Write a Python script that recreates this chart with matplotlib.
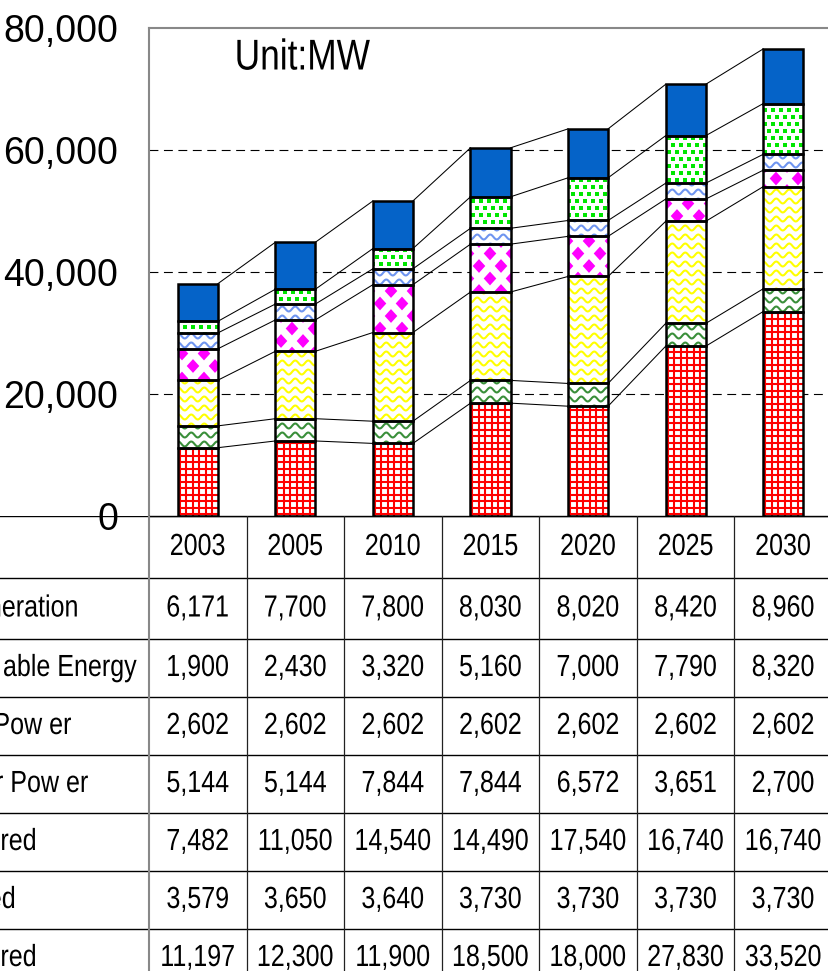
import numpy as np
import matplotlib
matplotlib.use("Agg")
import matplotlib.pyplot as plt
from matplotlib.collections import LineCollection, PolyCollection
from matplotlib.patheffects import AbstractPathEffect
from matplotlib.transforms import Affine2D

# capacity by source, MW
years = ["2003", "2005", "2010", "2015", "2020", "2025", "2030"]
cogeneration = [6171, 7700, 7800, 8030, 8020, 8420, 8960]
renewable = [1900, 2430, 3320, 5160, 7000, 7790, 8320]
pumped = [2602, 2602, 2602, 2602, 2602, 2602, 2602]
nuclear = [5144, 5144, 7844, 7844, 6572, 3651, 2700]
lng = [7482, 11050, 14540, 14490, 17540, 16740, 16740]
oil = [3579, 3650, 3640, 3730, 3730, 3730, 3730]
coal = [11197, 12300, 11900, 18500, 18000, 27830, 33520]

row_labels = ["Cogeneration", "Renew able Energy", "Pump Pow er",
              "Nuclear Pow er", "LNG-fired", "Oil-fired", "Coal-fired"]
table_rows = [cogeneration, renewable, pumped, nuclear, lng, oil, coal]
y_ticks = [0, 20000, 40000, 60000, 80000]

# bottom-to-top stacking order
stack = [coal, oil, lng, nuclear, pumped, renewable, cogeneration]
styles = ["grid", "wave_g", "wave_y", "diamond", "wave_b", "dots", "solid"]

FONT = "Liberation Sans"


class Squeeze(AbstractPathEffect):
    """Draw text narrower (like Arial Narrow) by scaling glyphs in x."""

    def __init__(self, fx=0.82, anchor="center"):
        super().__init__()
        self.fx = fx
        self.anchor = anchor

    def draw_path(self, renderer, gc, tpath, affine, rgbFace=None):
        v = tpath.vertices
        if self.anchor == "center" and len(v):
            cx = (v[:, 0].min() + v[:, 0].max()) / 2
        else:
            cx = 0.0
        squeeze = Affine2D().translate(-cx, 0).scale(self.fx, 1).translate(cx, 0)
        renderer.draw_path(gc, tpath, squeeze + affine, rgbFace)


narrow = [Squeeze()]
narrow_left = [Squeeze(anchor="left")]

W, H = 829, 971
fig = plt.figure(figsize=(W / 100, H / 100), dpi=100)
ax_l, ax_r, ax_t, ax_b = 149, 832, 28, 516
ax = fig.add_axes([ax_l / W, 1 - ax_b / H, (ax_r - ax_l) / W, (ax_b - ax_t) / H])
n = len(years)
x = np.arange(n)
ax.set_xlim(-0.5, n - 0.5)
ax.set_ylim(0, 80000)
ax.set_xticks([])
ax.set_yticks(y_ticks)
ax.set_yticklabels([f"{v:,}" for v in y_ticks], fontfamily=FONT)
ax.tick_params(axis="y", length=0, pad=22, labelsize=27)
for s in ["left", "top", "right"]:
    ax.spines[s].set_color("#888888")
    ax.spines[s].set_linewidth(1.5)
ax.spines["bottom"].set_color("black")
ax.spines["bottom"].set_linewidth(1.0)

for v in y_ticks[1:-1]:
    ax.axhline(v, color="black", lw=0.8, ls=(0, (8, 5)), zorder=0.5)

bw = 0.41
cum = np.cumsum(np.array(stack, dtype=float), axis=0)
bottoms = np.vstack([np.zeros(n), cum[:-1]])

# series lines between neighbouring bars
for k in range(len(stack)):
    for i in range(n - 1):
        ax.plot([i + bw / 2, i + 1 - bw / 2], [cum[k][i], cum[k][i + 1]],
                color="black", lw=0.75, zorder=1)

fig.canvas.draw()
p0 = ax.transData.transform((-0.5, 0))
p1 = ax.transData.transform((0.5, 1))
sx, sy = p1[0] - p0[0], p1[1] - p0[1]  # pixels per data unit


def to_data(px, py):
    return np.asarray(px) / sx - 0.5, np.asarray(py) / sy


def rect_px(rect):
    x0, y0 = rect.get_x(), rect.get_y()
    return ((x0 + 0.5) * sx, (x0 + rect.get_width() + 0.5) * sx,
            y0 * sy, (y0 + rect.get_height()) * sy)


def clipped(artist, rect):
    ax.add_collection(artist)
    artist.set_clip_path(rect)


def add_wave(rect, color, gap=9.0, period=13.0, amp=2.5, lw=1.5):
    X0, X1, Y0, Y1 = rect_px(rect)
    xs = np.arange(X0 - period, X1 + period, period / 12)
    segs = []
    for yc in np.arange(np.floor(Y0 / gap) * gap, Y1 + gap, gap):
        ys = yc + amp * np.sin(2 * np.pi * xs / period)
        dx, dy = to_data(xs, ys)
        segs.append(np.column_stack([dx, dy]))
    clipped(LineCollection(segs, colors=color, linewidths=lw, zorder=2.5), rect)


def add_grid(rect, color="#ff0000", step=6.5, lw=1.5):
    X0, X1, Y0, Y1 = rect_px(rect)
    segs = []
    for gx in np.arange(X0 + 2, X1 + step, step):
        dx, dy = to_data([gx, gx], [Y0, Y1])
        segs.append(np.column_stack([dx, dy]))
    for gy in np.arange(Y0 + 2, Y1 + step, step):
        dx, dy = to_data([X0, X1], [gy, gy])
        segs.append(np.column_stack([dx, dy]))
    clipped(LineCollection(segs, colors=color, linewidths=lw, zorder=2.5), rect)


def add_tiles(rect, color, kind):
    X0, X1, Y0, Y1 = rect_px(rect)
    if kind == "diamond":
        px, py, hx, hy = 22.0, 25.0, 6.3, 6.9
    else:
        px, py, hx, hy = 8.0, 14.0, 1.7, 1.7
    step = py / 2
    polys = []
    for cy in np.arange(np.floor(Y0 / step) * step - py, Y1 + py, step):
        off = (px / 2) * (int(round(cy / step)) % 2)
        for cx in np.arange(np.floor(X0 / px) * px - px + off, X1 + px, px):
            if kind == "diamond":
                vx = [cx - hx, cx, cx + hx, cx]
                vy = [cy, cy + hy, cy, cy - hy]
            else:
                vx = [cx - hx, cx + hx, cx + hx, cx - hx]
                vy = [cy - hy, cy - hy, cy + hy, cy + hy]
            dx, dy = to_data(vx, vy)
            polys.append(np.column_stack([dx, dy]))
    clipped(PolyCollection(polys, facecolors=color, edgecolors="none", zorder=2.5), rect)


for k, (vals, st) in enumerate(zip(stack, styles)):
    face = "#0563c8" if st == "solid" else "white"
    bars = ax.bar(x, vals, bw, bottom=bottoms[k], color=face, lw=0, zorder=2)
    for rect in bars:
        if st == "grid":
            add_grid(rect)
        elif st == "wave_g":
            add_wave(rect, "#3a8f3a")
        elif st == "wave_y":
            add_wave(rect, "#ffff00")
        elif st == "wave_b":
            add_wave(rect, "#6f95f0")
        elif st == "diamond":
            add_tiles(rect, "#ff00ff", "diamond")
        elif st == "dots":
            add_tiles(rect, "#00e600", "dots")
    ax.bar(x, vals, bw, bottom=bottoms[k], fill=False, edgecolor="black",
           lw=1.8, zorder=3)

ax.text(1.07, 75000, "Unit:MW", ha="center", va="center", fontsize=31,
        fontfamily=FONT, path_effects=narrow)

# data table under the plot
colw = (ax_r - ax_l) / n
tax = fig.add_axes([0, 0, ax_r / W, (H - ax_b) / H])
x_left = -0.5 - ax_l / colw
tax.set_xlim(x_left, n - 0.5)
tax.set_ylim(H - ax_b, 0)
tax.axis("off")
row_edges = [0, 62, 123, 181, 239, 297, 355, 413, 471]
label_x_px = [-72, -82, -79, -83, -72, -72, -72]
for e in row_edges:
    tax.plot([x_left, n - 0.5], [e, e], color="black", lw=1.0)
tax.plot([-0.5, -0.5], [0, H], color="#888888", lw=1.5)
for i in range(n):
    tax.plot([i + 0.5, i + 0.5], [0, H], color="#222222", lw=0.9)
    tax.text(i, (row_edges[0] + row_edges[1]) / 2, years[i], ha="center",
             va="center", fontsize=22, fontfamily=FONT, path_effects=narrow)
for r, vals in enumerate(table_rows):
    yc = (row_edges[r + 1] + row_edges[r + 2]) / 2
    tax.text(x_left + label_x_px[r] / colw, yc, row_labels[r], ha="left",
             va="center", fontsize=22, fontfamily=FONT, path_effects=narrow_left)
    for i in range(n):
        tax.text(i, yc, f"{vals[i]:,}", ha="center", va="center", fontsize=22,
                 fontfamily=FONT, path_effects=narrow)

fig.savefig("out.png", dpi=100)
